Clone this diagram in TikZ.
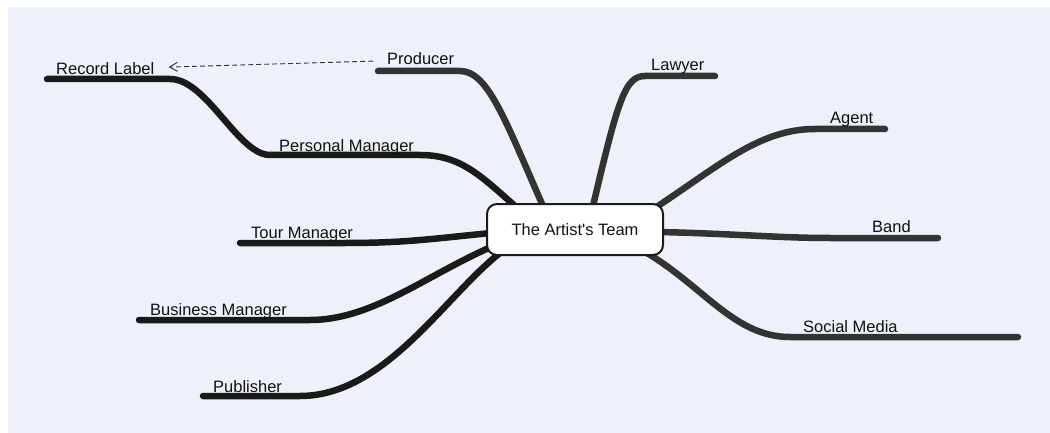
\documentclass[tikz,border=0pt]{standalone}
\usepackage{fontspec}
\setmainfont{Liberation Sans}
\usetikzlibrary{arrows.meta,calc}
\definecolor{panel}{HTML}{EEF1F9}
\definecolor{darkbr}{HTML}{1A1A1A}
\definecolor{graybr}{HTML}{333333}
\definecolor{txt}{HTML}{111111}
\pgfdeclarelayer{bg}
\pgfdeclarelayer{lines}
\pgfsetlayers{bg,lines,main}
\tikzset{
  lbl/.style={anchor=base west, inner sep=0pt, text=txt, font=\fontsize{16.5}{20}\selectfont},
  branch/.style={line width=6.5pt, line cap=round, line join=round},
  leftbr/.style={branch, draw=darkbr},
  rightbr/.style={branch, draw=graybr},
  hubbox/.style={draw=darkbr, fill=white, line width=2pt, rounded corners=10pt,
    minimum width=176pt, minimum height=51pt, inner sep=0pt, text=txt,
    font=\fontsize{16.5}{20}\selectfont},
  relarrow/.style={draw=graybr, line width=0.9pt, dash pattern=on 5pt off 3pt,
    -{Straight Barb[length=8pt,width=9pt]}}
}
\begin{document}
\begin{tikzpicture}[x=1pt,y=-1pt]
\useasboundingbox (0,0) rectangle (1050,433);
\begin{pgfonlayer}{bg}
  \fill[white] (0,0) rectangle (1050,433);
  \fill[panel] (8,7) rectangle (1050,433);
\end{pgfonlayer}

% hub
\node[hubbox] (hub) at (575,229.5) {The Artist\textquotesingle s Team};

% labels
\node[lbl] (record)    at (56,75)   {Record Label};
\node[lbl] (pm)        at (279,152) {Personal Manager};
\node[lbl] (producer)  at (387,65)  {Producer};
\node[lbl] (lawyer)    at (651,71)  {Lawyer};
\node[lbl] (agent)     at (830,124) {Agent};
\node[lbl] (band)      at (872,233) {Band};
\node[lbl] (social)    at (803,332) {Social Media};
\node[lbl] (tour)      at (251,238) {Tour Manager};
\node[lbl] (business)  at (150,315) {Business Manager};
\node[lbl] (publisher) at (213,392) {Publisher};

% free ends of the branches
\coordinate (e-record)    at (47,79);
\coordinate (e-pm)        at (270,155);
\coordinate (e-producer)  at (378,71);
\coordinate (e-lawyer)    at (715,76);
\coordinate (e-agent)     at (885,129);
\coordinate (e-band)      at (938,238);
\coordinate (e-social)    at (1018,337);
\coordinate (e-tour)      at (240,243);
\coordinate (e-business)  at (139,320);
\coordinate (e-publisher) at (203,396);

\begin{pgfonlayer}{lines}
  % left side
  \draw[leftbr] ($(hub.north)+(-60,3)$) .. controls (480,175) and (460,155) .. (420,155) -- (e-pm);
  \draw[leftbr] (e-pm) .. controls (238,155) and (207,79) .. (170,79) -- (e-record);
  \draw[leftbr] ($(hub.west)+(5,3.5)$) .. controls (430,239) and (405,243) .. (345,243) -- (e-tour);
  \draw[leftbr] ($(hub.west)+(5,17.5)$) .. controls (425,276) and (372,320) .. (310,320) -- (e-business);
  \draw[leftbr] ($(hub.south)+(-75,-3)$) .. controls (445,296) and (385,396) .. (300,396) -- (e-publisher);
  % top and right side
  \draw[rightbr] ($(hub.north)+(-32,3)$) .. controls (505,120) and (488,71) .. (460,71) -- (e-producer);
  \draw[rightbr] ($(hub.north)+(18,3)$) .. controls (618,100) and (625,76) .. (645,76) -- (e-lawyer);
  \draw[rightbr] ($(hub.north)+(80,5)$) .. controls (720,165) and (760,129) .. (815,129) -- (e-agent);
  \draw[rightbr] ($(hub.east)+(-4,2.5)$) .. controls (740,234) and (780,238) .. (830,238) -- (e-band);
  \draw[rightbr] ($(hub.south)+(72,-3)$) .. controls (705,288) and (735,337) .. (790,337) -- (e-social);
\end{pgfonlayer}

% relation
\draw[relarrow] ([xshift=-14pt,yshift=-2pt]producer.west) -- ([xshift=14pt,yshift=2pt]record.east);
\end{tikzpicture}
\end{document}
